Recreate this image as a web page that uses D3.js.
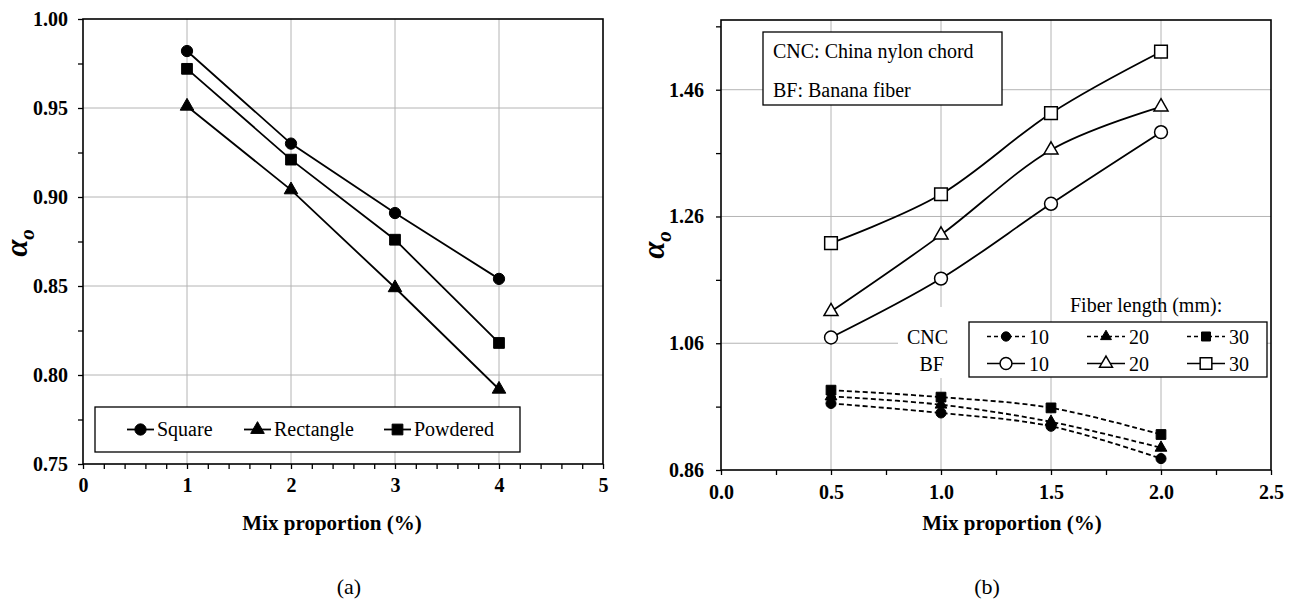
<!DOCTYPE html>
<html>
<head>
<meta charset="utf-8">
<script src="https://cdn.jsdelivr.net/npm/d3@7"></script>
<style>
  html, body { margin: 0; padding: 0; background: #fff; }
  svg text { font-family: "Liberation Serif", "Times New Roman", serif; fill: #000; }
</style>
</head>
<body>
<svg id="chart" width="1294" height="603" font-family="Liberation Serif"></svg>
<script>
// ---------- (a) fibre shape ----------
const mixA = [1, 2, 3, 4];
const squareA = [0.982, 0.930, 0.891, 0.854];
const rectangleA = [0.951, 0.904, 0.849, 0.792];
const powderedA = [0.972, 0.921, 0.876, 0.818];
const xTicksA = [0, 1, 2, 3, 4, 5];
const yTicksA = [0.75, 0.80, 0.85, 0.90, 0.95, 1.00];
const seriesNamesA = ["Square", "Rectangle", "Powdered"];

// ---------- (b) fibre type and length ----------
const mixB = [0.5, 1.0, 1.5, 2.0];
const cnc10 = [0.965, 0.950, 0.929, 0.878];
const cnc20 = [0.976, 0.963, 0.936, 0.895];
const cnc30 = [0.986, 0.975, 0.958, 0.916];
const bf10 = [1.069, 1.162, 1.280, 1.393];
const bf20 = [1.110, 1.231, 1.365, 1.433];
const bf30 = [1.218, 1.295, 1.423, 1.520];
const fiberLengths = ["10", "20", "30"];
const xTicksB = [0.0, 0.5, 1.0, 1.5, 2.0, 2.5];
const yTicksB = [0.86, 1.06, 1.26, 1.46];
const yMinorB = [0.96, 1.16, 1.36, 1.56];
const noteLines = ["CNC: China nylon chord", "BF: Banana fiber"];

const SERIF = '"Liberation Serif", "Times New Roman", serif';
const svg = d3.select("#chart");
const GRID = "#b4b4b4";

function marker(g, type, cx, cy, size, filled) {
  const sym = { circle: d3.symbolCircle, triangle: d3.symbolTriangle, square: d3.symbolSquare }[type];
  g.append("path")
    .attr("d", d3.symbol().type(sym).size(size)())
    .attr("transform", `translate(${cx},${cy})`)
    .attr("fill", filled ? "#000" : "#fff")
    .attr("stroke", "#000")
    .attr("stroke-width", filled ? 1 : 1.5);
}

function yTitle(g, x, y) {
  const t = g.append("text")
    .attr("transform", `translate(${x},${y}) rotate(-90)`)
    .attr("text-anchor", "middle")
    .style("font-size", "31px").style("font-weight", "bold").style("font-style", "italic");
  t.append("tspan").text("α");
  t.append("tspan").attr("dy", 7).style("font-size", "21px").text("o");
}

const fontAxis = sel => sel.selectAll("text").style("font-size", "20px").style("font-weight", "bold")
  .style("font-family", SERIF);

// =============== panel (a) ===============
(function () {
  const x = d3.scaleLinear().domain([0, 5]).range([83, 603]);
  const y = d3.scaleLinear().domain([0.75, 1.00]).range([464, 19]);
  const g = svg.append("g");

  // grid
  g.selectAll(".vg").data(xTicksA.slice(1, -1)).join("line")
    .attr("x1", d => x(d)).attr("x2", d => x(d)).attr("y1", y(1.0)).attr("y2", y(0.75))
    .attr("stroke", GRID).attr("stroke-width", 1);
  g.selectAll(".hg").data(yTicksA.slice(1, -1)).join("line")
    .attr("x1", x(0)).attr("x2", x(5)).attr("y1", d => y(d)).attr("y2", d => y(d))
    .attr("stroke", GRID).attr("stroke-width", 1);

  // axes
  const yMinor = d3.range(0.775, 1.0, 0.05);
  g.append("g").attr("transform", `translate(${x(0)},0)`)
    .call(d3.axisLeft(y).tickValues(yMinor).tickSize(5).tickFormat(""))
    .call(a => a.select(".domain").remove());
  g.append("g").attr("transform", `translate(${x(0)},0)`)
    .call(d3.axisLeft(y).tickValues(yTicksA).tickSize(5).tickSizeOuter(0).tickPadding(10).tickFormat(d3.format(".2f")))
    .call(a => a.select(".domain").remove())
    .call(fontAxis);
  const xMinor = d3.range(0.2, 5, 0.2).filter(v => Math.abs(v - Math.round(v)) > 1e-6);
  g.append("g").attr("transform", `translate(0,${y(0.75)})`)
    .call(d3.axisBottom(x).tickValues(xMinor).tickSize(5).tickFormat(""))
    .call(a => a.select(".domain").remove());
  g.append("g").attr("transform", `translate(0,${y(0.75)})`)
    .call(d3.axisBottom(x).tickValues(xTicksA).tickSize(5).tickSizeOuter(0).tickPadding(9).tickFormat(d3.format("d")))
    .call(a => a.select(".domain").remove())
    .call(fontAxis);
  g.selectAll(".tick line").attr("stroke", "#000").attr("stroke-width", 1.3);

  // frame
  g.append("rect").attr("x", x(0)).attr("y", y(1.0)).attr("width", x(5) - x(0)).attr("height", y(0.75) - y(1.0))
    .attr("fill", "none").attr("stroke", "#000").attr("stroke-width", 1.6);

  // series
  const seriesA = [
    { vals: squareA, shape: "circle", size: 100 },
    { vals: rectangleA, shape: "triangle", size: 80 },
    { vals: powderedA, shape: "square", size: 115 }
  ];
  const line = d3.line().x((d, i) => x(mixA[i])).y(d => y(d));
  seriesA.forEach(s => {
    g.append("path").attr("d", line(s.vals)).attr("fill", "none").attr("stroke", "#000").attr("stroke-width", 1.8);
    s.vals.forEach((v, i) => marker(g, s.shape, x(mixA[i]), y(v), s.size, true));
  });

  // legend
  g.append("rect").attr("x", 95).attr("y", 407).attr("width", 425).attr("height", 45)
    .attr("fill", "#fff").attr("stroke", "#000").attr("stroke-width", 1.3);
  const legX = [127, 244, 384];
  seriesA.forEach((s, i) => {
    const lx = legX[i], ly = 429.5;
    g.append("line").attr("x1", lx).attr("x2", lx + 27).attr("y1", ly).attr("y2", ly)
      .attr("stroke", "#000").attr("stroke-width", 1.8);
    marker(g, s.shape, lx + 13.5, ly, s.size, true);
    g.append("text").attr("x", lx + 30).attr("y", 436).style("font-size", "20px").text(seriesNamesA[i]);
  });

  // titles
  g.append("text").attr("x", 332).attr("y", 530).attr("text-anchor", "middle")
    .style("font-size", "21px").style("font-weight", "bold").text("Mix proportion (%)");
  yTitle(g, 27, 243);
  g.append("text").attr("x", 349).attr("y", 594).attr("text-anchor", "middle")
    .style("font-size", "22px").text("(a)");
})();

// =============== panel (b) ===============
(function () {
  const x = d3.scaleLinear().domain([0, 2.5]).range([721, 1271]);
  const y = d3.scaleLinear().domain([0.86, 1.57]).range([470, 20]);
  const g = svg.append("g");

  g.selectAll(".vg").data(xTicksB.slice(1, -1)).join("line")
    .attr("x1", d => x(d)).attr("x2", d => x(d)).attr("y1", y(1.57)).attr("y2", y(0.86))
    .attr("stroke", GRID).attr("stroke-width", 1);
  g.selectAll(".hg").data(yTicksB.slice(1)).join("line")
    .attr("x1", x(0)).attr("x2", x(2.5)).attr("y1", d => y(d)).attr("y2", d => y(d))
    .attr("stroke", GRID).attr("stroke-width", 1);

  g.append("g").attr("transform", `translate(${x(0)},0)`)
    .call(d3.axisLeft(y).tickValues(yMinorB).tickSize(5).tickFormat(""))
    .call(a => a.select(".domain").remove());
  g.append("g").attr("transform", `translate(${x(0)},0)`)
    .call(d3.axisLeft(y).tickValues(yTicksB).tickSize(5).tickSizeOuter(0).tickPadding(12).tickFormat(d3.format(".2f")))
    .call(a => a.select(".domain").remove())
    .call(fontAxis);
  g.append("g").attr("transform", `translate(0,${y(0.86)})`)
    .call(d3.axisBottom(x).tickValues([0.25, 0.75, 1.25, 1.75, 2.25]).tickSize(5).tickFormat(""))
    .call(a => a.select(".domain").remove());
  g.append("g").attr("transform", `translate(0,${y(0.86)})`)
    .call(d3.axisBottom(x).tickValues(xTicksB).tickSize(5).tickSizeOuter(0).tickPadding(10).tickFormat(d3.format(".1f")))
    .call(a => a.select(".domain").remove())
    .call(fontAxis);
  g.selectAll(".tick line").attr("stroke", "#000").attr("stroke-width", 1.3);

  // white label area behind the CNC / BF row names
  g.append("rect").attr("x", 898).attr("y", 307).attr("width", 72).attr("height", 71).attr("fill", "#fff");

  g.append("rect").attr("x", x(0)).attr("y", y(1.57)).attr("width", x(2.5) - x(0)).attr("height", y(0.86) - y(1.57))
    .attr("fill", "none").attr("stroke", "#000").attr("stroke-width", 1.6);

  // abbreviation note
  g.append("rect").attr("x", 763).attr("y", 32).attr("width", 239).attr("height", 73)
    .attr("fill", "#fff").attr("stroke", "#000").attr("stroke-width", 1.3);
  noteLines.forEach((t, i) => g.append("text").attr("x", 773).attr("y", 58 + i * 38.5)
    .style("font-size", "20px").text(t));

  const curve = d3.line().x((d, i) => x(mixB[i])).y(d => y(d)).curve(d3.curveCardinal.tension(0));
  const seriesB = [
    { vals: cnc10, shape: "circle", size: 80, filled: true, dash: "5,3" },
    { vals: cnc20, shape: "triangle", size: 60, filled: true, dash: "5,3" },
    { vals: cnc30, shape: "square", size: 95, filled: true, dash: "5,3" },
    { vals: bf10, shape: "circle", size: 130, filled: false, dash: null },
    { vals: bf20, shape: "triangle", size: 85, filled: false, dash: null },
    { vals: bf30, shape: "square", size: 160, filled: false, dash: null }
  ];
  seriesB.forEach(s => {
    g.append("path").attr("d", curve(s.vals)).attr("fill", "none").attr("stroke", "#000")
      .attr("stroke-width", 1.8).attr("stroke-dasharray", s.dash);
    s.vals.forEach((v, i) => marker(g, s.shape, x(mixB[i]), y(v), s.size, s.filled));
  });

  // legend
  g.append("text").attr("x", 1070).attr("y", 312).style("font-size", "20px").text("Fiber length (mm):");
  g.append("rect").attr("x", 969).attr("y", 322).attr("width", 298).attr("height", 55)
    .attr("fill", "#fff").attr("stroke", "#000").attr("stroke-width", 1.3);
  g.append("text").attr("x", 948).attr("y", 343.5).attr("text-anchor", "end").style("font-size", "20px").text("CNC");
  g.append("text").attr("x", 944).attr("y", 371).attr("text-anchor", "end").style("font-size", "20px").text("BF");
  const colX = [987, 1087, 1187];
  seriesB.forEach((s, k) => {
    const col = k % 3, row = Math.floor(k / 3);
    const lx = colX[col], ly = row === 0 ? 336.5 : 363.5;
    g.append("line").attr("x1", lx).attr("x2", lx + 38).attr("y1", ly).attr("y2", ly)
      .attr("stroke", "#000").attr("stroke-width", 1.6).attr("stroke-dasharray", s.dash ? "4,3" : null);
    marker(g, s.shape, lx + 19, ly, s.size * 0.85, s.filled);
    g.append("text").attr("x", lx + 42).attr("y", ly + 7).style("font-size", "20px").text(fiberLengths[col]);
  });

  g.append("text").attr("x", 1012).attr("y", 530).attr("text-anchor", "middle")
    .style("font-size", "21px").style("font-weight", "bold").text("Mix proportion (%)");
  yTitle(g, 664, 245);
  g.append("text").attr("x", 987).attr("y", 594).attr("text-anchor", "middle")
    .style("font-size", "22px").text("(b)");
})();
</script>
</body>
</html>
